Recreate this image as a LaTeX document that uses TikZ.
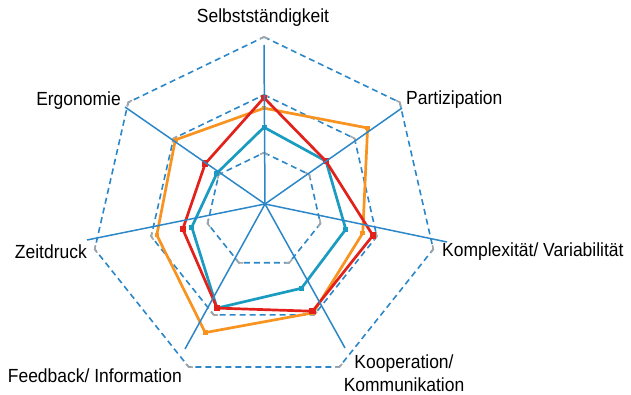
\documentclass[tikz,border=0pt]{standalone}
\usepackage{fontspec}
\setmainfont{Liberation Sans}[FakeStretch=0.92]
\definecolor{achsblau}{HTML}{2B87C8}
\definecolor{serorange}{HTML}{F7931E}
\definecolor{serrot}{HTML}{E3211B}
\definecolor{sertuerkis}{HTML}{1A9CC0}
\begin{document}
\begin{tikzpicture}[x=1pt,y=1pt,
		achse/.style={achsblau,line width=1.5pt},
		ring/.style={achsblau,line width=1.6pt,dash pattern=on 6pt off 4pt},
		marke/.style={gray!70,line width=1.6pt},
		serie/.style={#1,line width=2.7pt,line join=round},
		punkt/.style={fill=#1,inner sep=0pt,outer sep=0pt},
		beschriftung/.style={inner sep=0pt,font=\fontsize{19}{23}\selectfont}]
			\useasboundingbox (0,0) rectangle (631,394);
			\def\u{57.87}
			\begin{scope}[shift={(264,183.4)}]
				\foreach \r in {1,2,3}
					\draw[ring] (90:\r*\u) \foreach \k in {1,...,6}{ -- ({90-\k*360/7}:{\r*\u}) } -- cycle;
				\foreach \r in {1,2,3} \foreach \k in {0,...,6} {
					\pgfmathsetmacro\w{90-\k*360/7}
					\draw[marke] (\w:\r*\u) ++(\w+180:5.5) ++(\w-45:5.5) arc[start angle=\w-45,end angle=\w+45,radius=5.5];
				}
				\foreach \v [count=\k from 0] in {1.77,2.29,1.75,1.96,2.34,1.90,1.96}
					\coordinate (o\k) at ({90-\k*360/7}:{\v*\u});
				\foreach \v [count=\k from 0] in {1.44,1.37,1.45,1.49,1.87,1.28,1.04}
					\coordinate (t\k) at ({90-\k*360/7}:{\v*\u});
				\foreach \v [count=\k from 0] in {1.95,1.37,1.93,1.93,1.87,1.44,1.30}
					\coordinate (r\k) at ({90-\k*360/7}:{\v*\u});
			\end{scope}
			\draw[serie=serorange] (o0) -- (o1) -- (o2) -- (o3) -- (o4) -- (o5) -- (o6) -- cycle;
			\foreach \k in {0,...,6} \node[punkt=serorange,minimum size=4.5pt] (om\k) at (o\k) {};
			\draw[serie=sertuerkis] (t0) -- (t1) -- (t2) -- (t3) -- (t4) -- (t5) -- (t6) -- cycle;
			\foreach \k in {0,...,6} \node[punkt=sertuerkis,minimum size=5pt] (tm\k) at (t\k) {};
			\draw[serie=serrot] (r0) -- (r1) -- (r2) -- (r3) -- (r4) -- (r5) -- (r6) -- cycle;
			\foreach \k in {0,...,6} \node[punkt=serrot,minimum size=6.5pt] (rm\k) at (r\k) {};
			\coordinate (A) at (265,190);
			\coordinate (eS) at (264,349);
			\coordinate (eP) at (402,286);
			\coordinate (eK) at (447,152);
			\coordinate (eKo) at (345,46);
			\coordinate (eF) at (185,45);
			\coordinate (eZ) at (87,154);
			\coordinate (eE) at (125,287);
			\foreach \n in {S,P,K,Ko,F,Z,E} \draw[achse] (A) -- (e\n);
			\node[beschriftung] (lS) at (263,376) {Selbstständigkeit};
			\node[beschriftung,anchor=west] (lP) at (406,294) {Partizipation};
			\node[beschriftung,anchor=east] (lE) at (121,293) {Ergonomie};
			\node[beschriftung,anchor=east] (lZ) at (87,142) {Zeitdruck};
			\node[beschriftung,anchor=west] (lK) at (442,142) {Komplexität/ Variabilität};
			\node[beschriftung,anchor=east] (lF) at (182,18) {Feedback/ Information};
			\node[beschriftung,align=center] (lKo) at (404,21) {Kooperation/\\Kommunikation};
\end{tikzpicture}
\end{document}
